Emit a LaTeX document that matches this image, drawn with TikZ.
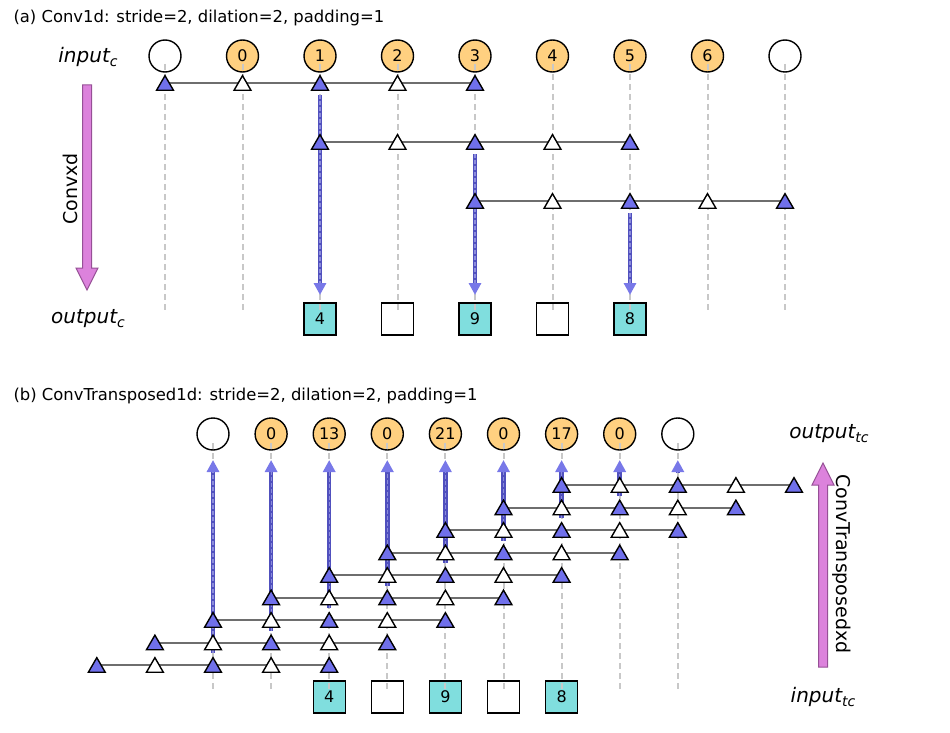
\documentclass[tikz,border=0pt]{standalone}
\usepackage{fontspec}
\setmainfont{DejaVu Sans}
\usetikzlibrary{arrows.meta,shapes.geometric,calc}
\definecolor{trifill}{RGB}{112,112,235}
\definecolor{orng}{RGB}{255,208,128}
\definecolor{cyanbox}{RGB}{128,222,222}
\definecolor{pinkfill}{RGB}{220,130,220}
\definecolor{pinkedge}{RGB}{150,80,150}
\definecolor{arrdark}{RGB}{80,80,190}
\definecolor{arrlight}{RGB}{140,140,220}
\definecolor{arrhead}{RGB}{120,120,232}
\definecolor{vgray}{RGB}{200,200,200}
\definecolor{hgray}{RGB}{110,110,110}
\newcommand{\sbs}[1]{\raisebox{-4pt}{\fontsize{14}{14}\selectfont #1}}
\begin{document}
\begin{tikzpicture}[x=1pt,y=-1pt,
  circ/.style={circle,draw=black,line width=1.4pt,minimum size=32pt,inner sep=0pt,font=\fontsize{16}{16}\selectfont},
  incirc/.style={circ,fill=orng},
  emptycirc/.style={circ,fill=white},
  sq/.style={rectangle,draw=black,line width=1.4pt,minimum size=32pt,inner sep=0pt,font=\fontsize{16}{16}\selectfont},
  valsq/.style={sq,fill=cyanbox},
  emptysq/.style={sq,fill=white},
  trib/.style={regular polygon,regular polygon sides=3,draw=black,line width=1.4pt,minimum size=19.5pt,inner sep=0pt,yshift=-2.4pt},
  trion/.style={trib,fill=trifill},
  trioff/.style={trib,fill=white},
  vline/.style={draw=vgray,line width=2pt,dash pattern=on 6pt off 4pt},
  hline/.style={draw=hgray,line width=2pt},
  arrbase/.style={draw=arrdark,line width=4.5pt,-{Triangle[width=12pt,length=12pt,fill=arrhead,color=arrhead]}},
  arrdash/.style={draw=arrlight,line width=1.2pt,dash pattern=on 4pt off 2pt,shorten >=12pt},
  pinkarr/.style={fill=pinkfill,draw=pinkedge,line width=1pt,line join=miter},
  title/.style={anchor=base west,font=\fontsize{16.4}{18}\selectfont},
  lab/.style={font=\fontsize{20}{20}\selectfont\itshape},
  rotlab/.style={font=\fontsize{19}{20}\selectfont}
]
\useasboundingbox (0,0) rectangle (950,733);

%================ (a) =================
\node[title] (ta) at (10,22.5) {(a) Conv1d: stride=2, dilation=2, padding=1};
\foreach \j/\v/\s in {0//emptycirc,1/0/incirc,2/1/incirc,3/2/incirc,4/3/incirc,5/4/incirc,6/5/incirc,7/6/incirc,8//emptycirc}
  \node[\s] (a-in-\j) at ({165+77.5*\j},56) {\v};
\foreach \j/\v/\s in {2/4/valsq,3//emptysq,4/9/valsq,5//emptysq,6/8/valsq}
  \node[\s] (a-out-\j) at ({165+77.5*\j},319) {\v};
\foreach \j in {0,...,8} {
  \coordinate (a-top-\j) at ({165+77.5*\j},64);
  \coordinate (a-bot-\j) at ({165+77.5*\j},313);
  \draw[vline] (a-top-\j) -- (a-bot-\j);
}
\foreach \r in {0,1,2} {
  \foreach \k in {0,...,4}
    \coordinate (a-c-\r-\k) at ({165+77.5*(2*\r+\k)},{83+59*\r});
  \draw[hline] (a-c-\r-0) -- (a-c-\r-4);
  \coordinate (a-as-\r) at ($(a-c-\r-2)+(0,12)$);
  \coordinate (a-ae-\r) at ({165+77.5*(2*\r+2)},295);
  \draw[arrbase] (a-as-\r) -- (a-ae-\r);
  \draw[arrdash] (a-as-\r) -- (a-ae-\r);
}
\foreach \r in {0,1,2} {
  \foreach \k in {0,2,4} \node[trion] (a-t-\r-\k) at (a-c-\r-\k) {};
  \foreach \k in {1,3} \node[trioff] (a-t-\r-\k) at (a-c-\r-\k) {};
}
\node[lab] (a-inlab) at (88,57) {input\sbs{c}};
\node[lab] (a-outlab) at (88,319) {output\sbs{c}};
\draw[pinkarr] (82.5,85) -- (91.5,85) -- (91.5,268) -- (98,268) -- (87,290) -- (76,268) -- (82.5,268) -- cycle;
\node[rotlab,rotate=90] (a-conv) at (70,189) {Convxd};

%================ (b) =================
\node[title] (tb) at (10,400.5) {(b) ConvTransposed1d: stride=2, dilation=2, padding=1};
\foreach \j/\v/\s in {0//emptycirc,1/0/incirc,2/13/incirc,3/0/incirc,4/21/incirc,5/0/incirc,6/17/incirc,7/0/incirc,8//emptycirc}
  \node[\s] (b-out-\j) at ({213+58.1*\j},434) {\v};
\foreach \j/\v/\s in {2/4/valsq,3//emptysq,4/9/valsq,5//emptysq,6/8/valsq}
  \node[\s] (b-in-\j) at ({213+58.1*\j},697) {\v};
\foreach \j in {0,...,8} {
  \coordinate (b-top-\j) at ({213+58.1*\j},443);
  \coordinate (b-bot-\j) at ({213+58.1*\j},691);
  \draw[vline] (b-top-\j) -- (b-bot-\j);
}
\foreach \r in {0,...,8} {
  \foreach \k in {0,...,4}
    \coordinate (b-c-\r-\k) at ({213+58.1*(\r-2+\k)},{665-22.5*\r});
  \draw[hline] (b-c-\r-0) -- (b-c-\r-4);
  \coordinate (b-as-\r) at ($(b-c-\r-2)+(0,-12)$);
  \coordinate (b-ae-\r) at ({213+58.1*\r},460);
  \draw[arrbase] (b-as-\r) -- (b-ae-\r);
  \draw[arrdash] (b-as-\r) -- (b-ae-\r);
}
\foreach \r in {0,...,8} {
  \foreach \k in {0,2,4} \node[trion] (b-t-\r-\k) at (b-c-\r-\k) {};
  \foreach \k in {1,3} \node[trioff] (b-t-\r-\k) at (b-c-\r-\k) {};
}
\node[lab] (b-outlab) at (829,434) {output\sbs{tc}};
\node[lab] (b-inlab) at (823,697) {input\sbs{tc}};
\draw[pinkarr] (818.5,667) -- (827.5,667) -- (827.5,485) -- (834,485) -- (823,463) -- (812,485) -- (818.5,485) -- cycle;
\node[rotlab,rotate=-90] (b-conv) at (842,564) {ConvTransposedxd};
\end{tikzpicture}
\end{document}
